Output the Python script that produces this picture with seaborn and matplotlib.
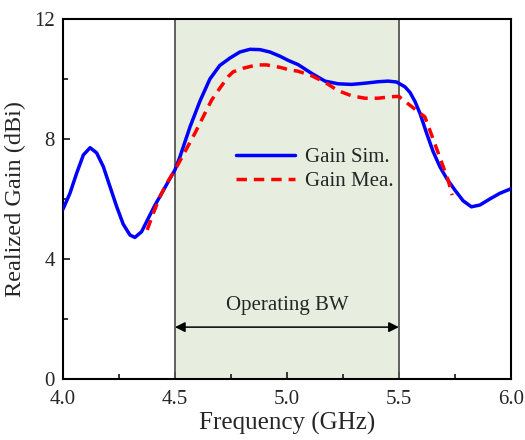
import matplotlib.pyplot as plt
import numpy as np
import pandas as pd
import seaborn as sns

# simulated gain
freq_sim = [4.000, 4.031, 4.061, 4.091, 4.121, 4.150, 4.180, 4.210, 4.240,
            4.269, 4.299, 4.321, 4.351, 4.381, 4.411, 4.441, 4.470, 4.500,
            4.522, 4.567, 4.612, 4.656, 4.700, 4.746, 4.790, 4.835, 4.879,
            4.924, 4.969, 5.006, 5.050, 5.110, 5.170, 5.229, 5.289, 5.348,
            5.408, 5.452, 5.490, 5.527, 5.550, 5.572, 5.594, 5.624, 5.653,
            5.683, 5.713, 5.750, 5.787, 5.824, 5.862, 5.906, 5.951, 6.000]
gain_sim = [5.66, 6.19, 6.86, 7.47, 7.71, 7.54, 7.08, 6.41, 5.74,
            5.16, 4.80, 4.72, 4.91, 5.36, 5.80, 6.19, 6.58, 6.97,
            7.40, 8.40, 9.27, 10.00, 10.45, 10.70, 10.90, 10.99, 10.98,
            10.90, 10.76, 10.62, 10.48, 10.19, 9.93, 9.84, 9.82, 9.86,
            9.91, 9.93, 9.90, 9.74, 9.55, 9.25, 8.86, 8.19, 7.58,
            7.08, 6.69, 6.30, 5.94, 5.74, 5.80, 6.00, 6.19, 6.34]

# measured gain
freq_mea = [4.376, 4.403, 4.433, 4.463, 4.500, 4.537, 4.589, 4.626, 4.664,
            4.700, 4.738, 4.760, 4.805, 4.865, 4.910, 4.969, 5.013, 5.050,
            5.110, 5.170, 5.229, 5.289, 5.348, 5.408, 5.467, 5.500, 5.542,
            5.586, 5.616, 5.638, 5.668, 5.698, 5.720, 5.738]
gain_mea = [4.97, 5.52, 6.08, 6.52, 6.97, 7.47, 8.19, 8.74, 9.30,
            9.69, 10.08, 10.24, 10.36, 10.47, 10.47, 10.39, 10.30, 10.26,
            10.11, 9.89, 9.61, 9.44, 9.36, 9.36, 9.41, 9.42, 9.17,
            8.91, 8.74, 8.30, 7.69, 7.08, 6.63, 6.13]

band = (4.5, 5.5)

sns.set_style("ticks")
plt.rcParams["font.family"] = ["Liberation Serif", "DejaVu Serif"]

fig = plt.figure(figsize=(5.25, 4.4), dpi=100)
ax = fig.add_axes([0.12, 0.1386, 0.853, 0.8182])

ax.axvspan(band[0], band[1], facecolor="#e8eedf", edgecolor="none", zorder=0)
for b in band:
    ax.axvline(b, color="#555555", lw=1.3, zorder=1)

sim = pd.DataFrame({"f": freq_sim, "g": gain_sim})
mea = pd.DataFrame({"f": freq_mea, "g": gain_mea})
sns.lineplot(data=sim, x="f", y="g", color="#0000ff", lw=2.5, ax=ax,
             label="Gain Sim.", sort=False, zorder=3)
sns.lineplot(data=mea, x="f", y="g", color="#ff0000", lw=2.5, ax=ax,
             label="Gain Mea.", sort=False, zorder=4)
for ln in ax.lines:
    ln.set_solid_joinstyle("round")
ax.lines[-1].set_dashes([3.0, 2.0])

ax.annotate("", xy=(band[0], 1.73), xytext=(band[1], 1.73),
            arrowprops=dict(arrowstyle="<|-|>", color="black", lw=1.1,
                            mutation_scale=15, shrinkA=0, shrinkB=0))
ax.text(5.0, 2.15, "Operating BW", ha="center", va="bottom", fontsize=15)

ax.set_xlim(4.0, 6.0)
ax.set_ylim(0, 12)
ax.set_xticks(np.arange(4.0, 6.01, 0.5))
ax.set_xticks(np.arange(4.25, 6.0, 0.5), minor=True)
ax.set_yticks([0, 4, 8, 12])
ax.set_yticks([2, 6, 10], minor=True)
ax.set_xticklabels(["4.0", "4.5", "5.0", "5.5", "6.0"])
ax.tick_params(which="both", direction="in", labelsize=15, width=1.3)
ax.tick_params(which="major", length=5)
ax.tick_params(which="minor", length=3.5)
ax.tick_params(axis="x", pad=8)
ax.tick_params(axis="y", pad=6)
for s in ax.spines.values():
    s.set_linewidth(1.5)
    s.set_color("black")

ax.set_xlabel("Frequency (GHz)", fontsize=18, labelpad=2)
ax.set_ylabel("Realized Gain (dBi)", fontsize=17.5, labelpad=6)

ax.legend(loc="upper left", bbox_to_anchor=(0.345, 0.695), frameon=False,
          fontsize=15, handlelength=2.8, handletextpad=0.5,
          labelspacing=0.2)

fig.savefig("out.png", dpi=100)
